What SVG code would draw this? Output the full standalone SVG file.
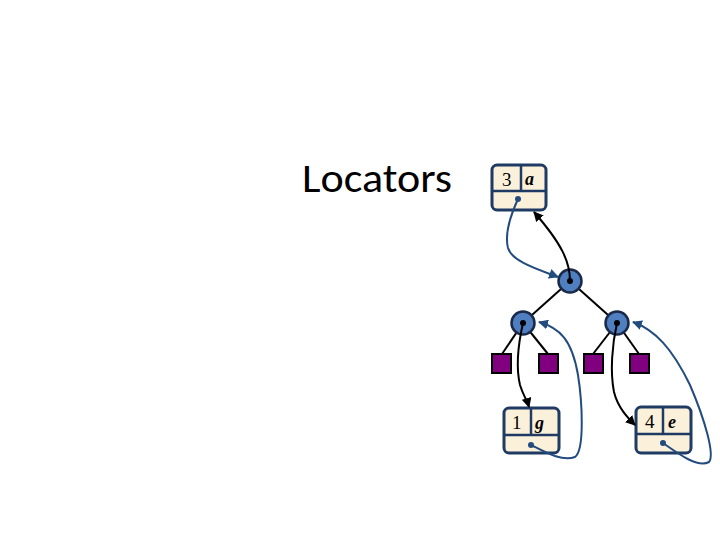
<svg xmlns="http://www.w3.org/2000/svg" width="720" height="540" viewBox="0 0 720 540">
<defs>
<style>
.box{fill:#FBF1DA;stroke:#1F3B63;stroke-width:3}
.div{stroke:#1F3B63;stroke-width:2.5;fill:none}
.node{fill:#4F7FC0;stroke:#1A2A48;stroke-width:2.5}
.leaf{fill:#800080;stroke:#000;stroke-width:2}
.edge{stroke:#000;stroke-width:2;fill:none}
.blk{stroke:#000;stroke-width:2;fill:none;marker-end:url(#ab)}
.blu{stroke:#234C7E;stroke-width:2;fill:none;marker-end:url(#au)}
.num{font-family:"Liberation Serif",serif;font-size:19px;fill:#000}
.let{font-family:"Liberation Serif",serif;font-size:18px;font-style:italic;font-weight:bold;fill:#000}
</style>
<marker id="ab" viewBox="0 0 10 10" refX="9" refY="5" markerWidth="5" markerHeight="5" orient="auto"><path d="M0,0L10,5L0,10z" fill="#000"/></marker>
<marker id="au" viewBox="0 0 10 10" refX="9" refY="5" markerWidth="5" markerHeight="5" orient="auto"><path d="M0,0L10,5L0,10z" fill="#234C7E"/></marker>
</defs>
<rect width="720" height="540" fill="#fff"/>
<text x="302" y="192" font-family="Calibri,Carlito,'Open Sans','Liberation Sans',sans-serif" font-size="40" textLength="150" lengthAdjust="spacingAndGlyphs" fill="#000">Locators</text>
<g id="edges">
<line class="edge" x1="570" y1="281" x2="523" y2="323"/>
<line class="edge" x1="570" y1="281" x2="617" y2="323"/>
<line class="edge" x1="523" y1="323" x2="502" y2="354"/>
<line class="edge" x1="523" y1="323" x2="548" y2="354"/>
<line class="edge" x1="617" y1="323" x2="593" y2="354"/>
<line class="edge" x1="617" y1="323" x2="639" y2="354"/>
</g>
<g id="n-root"><circle class="node" cx="570" cy="281" r="11.5"/></g>
<g id="n-left"><circle class="node" cx="523" cy="323" r="11.5"/></g>
<g id="n-right"><circle class="node" cx="617" cy="323" r="11.5"/></g>
<g id="leaf1"><rect class="leaf" x="492" y="354" width="19" height="19"/></g>
<g id="leaf2"><rect class="leaf" x="539" y="354" width="19" height="19"/></g>
<g id="leaf3"><rect class="leaf" x="584" y="354" width="19" height="19"/></g>
<g id="leaf4"><rect class="leaf" x="630" y="354" width="19" height="19"/></g>
<g id="box-3a">
<rect class="box" x="492" y="165" width="54" height="45" rx="5"/>
<line class="div" x1="492" y1="191" x2="546" y2="191"/>
<line class="div" x1="521" y1="165" x2="521" y2="191"/>
<text class="num" x="502" y="186">3</text>
<text class="let" x="525" y="185">a</text>
</g>
<g id="box-1g">
<rect class="box" x="504" y="408" width="55" height="45" rx="5"/>
<line class="div" x1="504" y1="435" x2="559" y2="435"/>
<line class="div" x1="531" y1="408" x2="531" y2="435"/>
<text class="num" x="512" y="429">1</text>
<text class="let" x="535" y="429">g</text>
</g>
<g id="box-4e">
<rect class="box" x="636" y="407" width="55" height="46" rx="5"/>
<line class="div" x1="636" y1="434" x2="691" y2="434"/>
<line class="div" x1="663" y1="407" x2="663" y2="434"/>
<text class="num" x="645" y="428">4</text>
<text class="let" x="668" y="428">e</text>
</g>
<g id="connectors">
<path class="blu" d="M518,199 C512,212 504,232 508,248 C512,262 540,270 558,277"/>
<path class="blk" d="M570,281 C570,262 562,244 534,212"/>
<path class="blk" d="M523,323 C518,345 516,368 520,385 C523,395 527,400 529,407"/>
<path class="blk" d="M617,323 C612,345 610,372 614,392 C618,408 628,418 635,425"/>
<path class="blu" d="M531,445 C545,452 562,462 575,457 C585,450 582,400 578,375 C572,340 560,328 539,322"/>
<path class="blu" d="M663,443 C680,455 698,468 709,462 C715,455 705,420 690,385 C672,348 655,330 633,322"/>
<circle cx="518" cy="199" r="3" fill="#234C7E"/>
<circle cx="531" cy="445" r="3" fill="#234C7E"/>
<circle cx="663" cy="443" r="3" fill="#234C7E"/>
<circle cx="570" cy="281" r="3" fill="#000"/>
<circle cx="523" cy="323" r="3" fill="#000"/>
<circle cx="617" cy="323" r="3" fill="#000"/>
</g>
</svg>
